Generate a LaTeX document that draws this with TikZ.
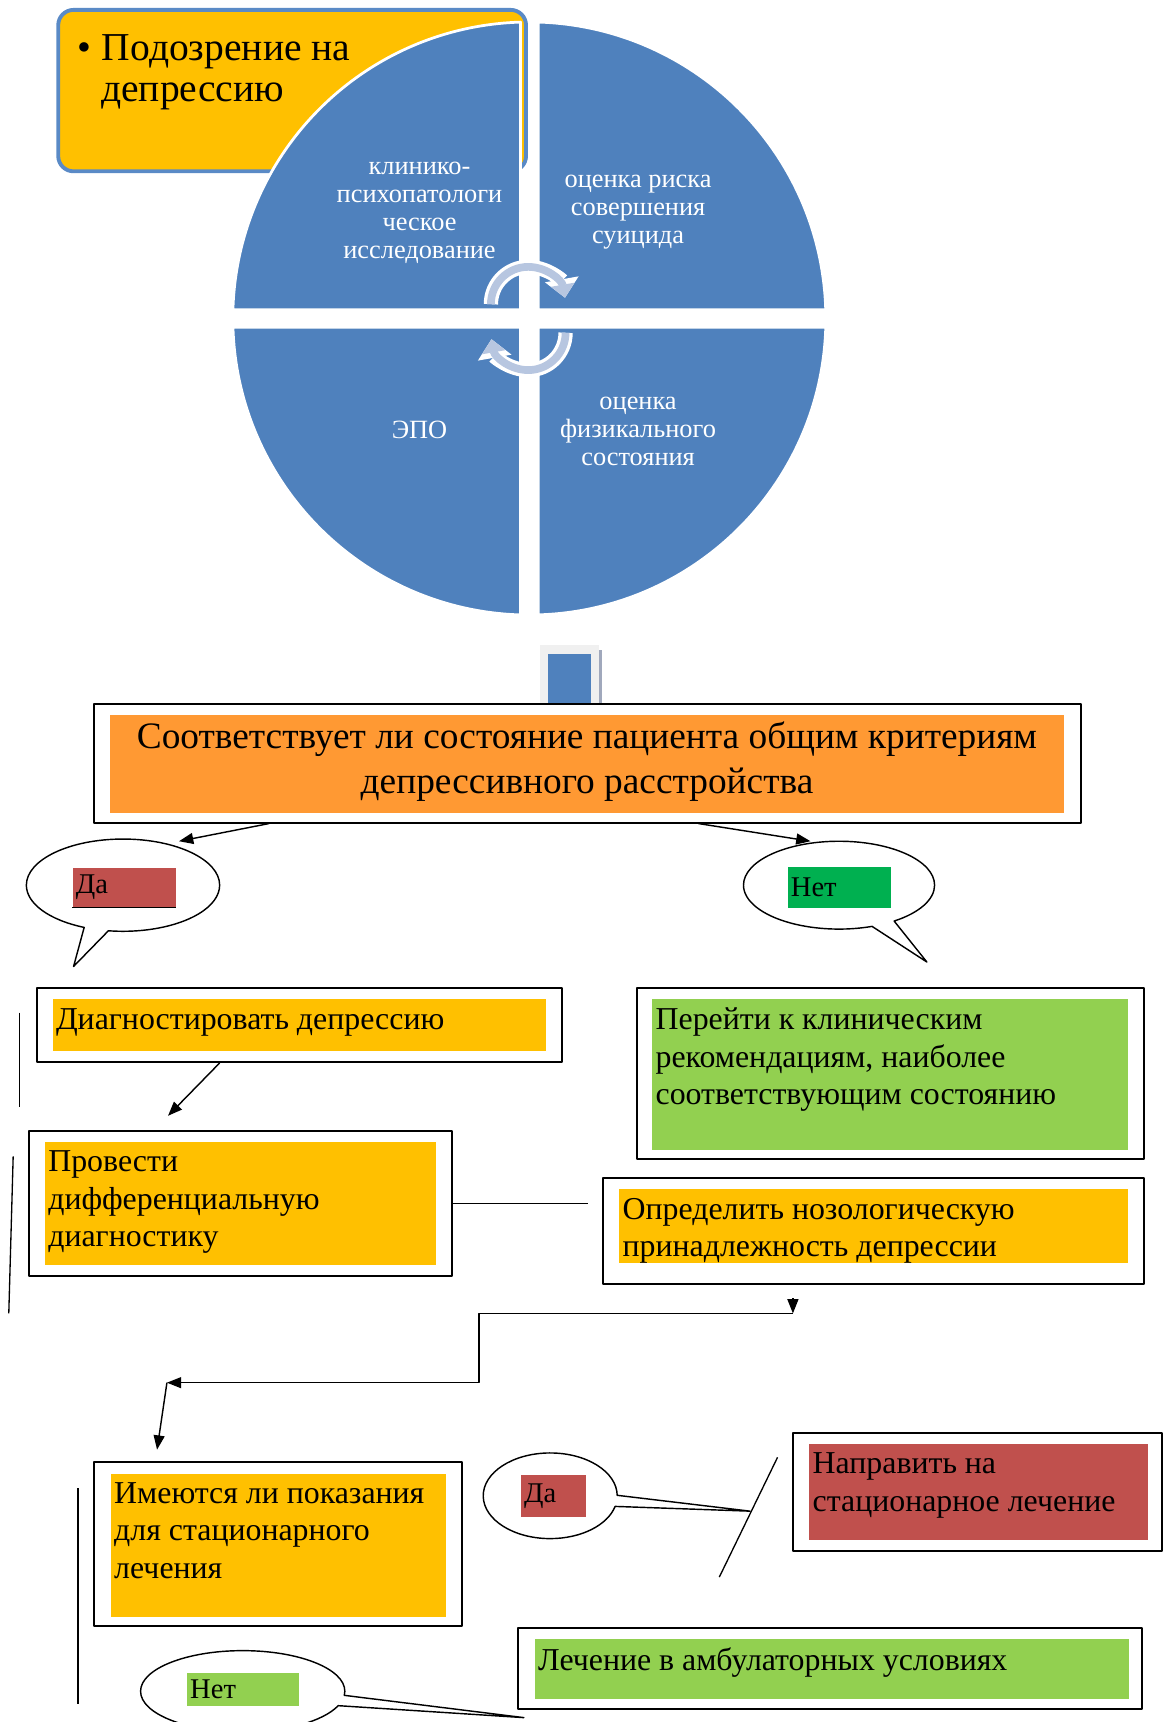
\documentclass[tikz,border=0pt]{standalone}
\usepackage{fontspec}
\setmainfont{Liberation Serif}
\usetikzlibrary{arrows.meta,shapes.callouts,fit}

\definecolor{quadblue}{HTML}{4F81BD}
\definecolor{topblue}{HTML}{5A8AC6}
\definecolor{boxyellow}{HTML}{FFC000}
\definecolor{critorange}{HTML}{FF9933}
\definecolor{yesred}{HTML}{C0504D}
\definecolor{nogreen}{HTML}{00B050}
\definecolor{lightgreen}{HTML}{92D050}
\definecolor{cyclearrow}{HTML}{B7C6E0}
\definecolor{framegray}{HTML}{F0F0F0}
\definecolor{shadowgray}{HTML}{A0A8BC}

\begin{document}
\begin{tikzpicture}[x=1pt, y=-1pt, line join=round, >={Triangle[length=13pt,width=10pt]},
    quad/.style={fill=quadblue, draw=white, line width=2.5pt},
    quadtext/.style={text=white, align=center, font=\fontsize{24}{25.5}\selectfont},
    cycout/.style={draw=white, line width=13pt, -{Triangle[length=17pt,width=30pt]}},
    cycin/.style={draw=cyclearrow, line width=7pt, -{Triangle[length=12pt,width=21pt]}},
    outbox/.style={draw=black, line width=1.8pt, fill=white, inner sep=0pt},
    inbox/.style={inner sep=0pt},
    boxtext/.style={anchor=north west, align=left, inner xsep=3pt, inner ysep=8pt, font=\fontsize{29}{34}\selectfont},
    bubble/.style={ellipse callout, draw=black, line width=1.3pt, fill=white, inner sep=0pt},
    tag/.style={anchor=north west, align=left, inner xsep=3pt, inner ysep=0pt, font=\fontsize{26}{28}\selectfont},
    conn/.style={line width=1.3pt}]
    \useasboundingbox (0,0) rectangle (1061,1568);

    % suspicion box behind the circle
    \node[draw=topblue, line width=3.5pt, fill=boxyellow, rounded corners=14pt, inner sep=0pt, fit={(53,9) (479,156)}] (suspect) {};
    \node[anchor=north west, align=left, inner sep=0pt, font=\fontsize{36}{38}\selectfont] (suspectText) at (70,31) {\textbullet\hspace{10pt}Подозрение на\\\hspace*{22pt}депрессию};

    % four quarters of the circle
    \filldraw[quad] (474,282) -- (212.1,282) arc[start angle=-178.3, end angle=-91.7, radius=270] -- cycle;
    \filldraw[quad] (490,282) -- (490,20.1) arc[start angle=-88.3, end angle=-1.7, radius=270] -- cycle;
    \filldraw[quad] (490,298) -- (751.9,298) arc[start angle=1.7, end angle=88.3, radius=270] -- cycle;
    \filldraw[quad] (474,298) -- (474,559.9) arc[start angle=91.7, end angle=178.3, radius=270] -- cycle;

    \node[quadtext] (clinical) at (382,194) {клинико-\\психопатологи\\ческое\\исследование};
    \node[quadtext] (suicide) at (581,193) {оценка риска\\совершения\\суицида};
    \node[quadtext] (epo) at (382,391) {ЭПО};
    \node[quadtext] (physical) at (581,393) {оценка\\физикального\\состояния};

    \draw[cycout] (447,277) arc[start angle=180, end angle=350, radius=34];
    \draw[cycin] (447,277) arc[start angle=180, end angle=350, radius=34];
    \draw[cycout] (515,303) arc[start angle=0, end angle=170, radius=34];
    \draw[cycin] (515,303) arc[start angle=0, end angle=170, radius=34];

    % small step square
    \fill[framegray] (492,587) rectangle (545,640);
    \fill[shadowgray] (545,592) rectangle (548,640);
    \node[fill=quadblue, inner sep=0pt, minimum width=39pt, minimum height=45pt, anchor=north west] (stepSquare) at (499,595) {};

    \node[outbox, fit={(86,641) (984,749)}] (crit) {};
    \node[inbox, fill=critorange, fit={(100,651) (969,740)}] (critIn) {};
    \node[align=center, font=\fontsize{34}{41}\selectfont] (critText) at ([yshift=2pt]critIn.center) {Соответствует ли состояние пациента общим критериям\\депрессивного расстройства};

    \node[bubble, minimum width=176pt, minimum height=84pt, callout absolute pointer={(67,880)}] (yesBubble) at (112,806) {};
    \node[tag, fill=yesred, text width=88pt, minimum height=36pt] (yesTag) at (66,790) {Да};
    \draw[line width=1.6pt] (yesTag.south west) -- (yesTag.south east);

    \node[bubble, minimum width=174pt, minimum height=80pt, callout absolute pointer={(844,876)}] (noBubble) at (764,806) {};
    \node[tag, fill=nogreen, text width=88pt, minimum height=38pt] (noTag) at (717,789) {Нет};

    \coordinate (yesTip) at (163,766);
    \coordinate (noTip) at (738,766);
    \draw[conn,->] (245,0 |- crit.south) -- (yesTip);
    \draw[conn,->] (636,0 |- crit.south) -- (noTip);

    \node[outbox, fit={(34,900) (512,967)}] (diag) {};
    \node[inbox, fill=boxyellow, fit={(48,910) (497,957)}] (diagIn) {};
    \node[boxtext] (diagText) at (diagIn.north west) {Диагностировать депрессию};

    \node[outbox, fit={(26,1030) (412,1162)}] (diff) {};
    \node[inbox, fill=boxyellow, fit={(41,1040) (397,1152)}] (diffIn) {};
    \node[boxtext] (diffText) at (diffIn.north west) {Провести\\дифференциальную\\диагностику};

    \coordinate (diffTip) at (153,1016);
    \draw[conn,->] (200,0 |- diag.south) -- (diffTip);

    \node[outbox, fit={(580,900) (1042,1055)}] (guide) {};
    \node[inbox, fill=lightgreen, fit={(594,910) (1027,1047)}] (guideIn) {};
    \node[boxtext] (guideText) at (guideIn.north west) {Перейти к клиническим\\рекомендациям, наиболее\\соответствующим состоянию};

    \node[outbox, fit={(549,1073) (1042,1169)}] (noso) {};
    \node[inbox, fill=boxyellow, fit={(564,1083) (1027,1150)}] (nosoIn) {};
    \node[boxtext] (nosoText) at (nosoIn.north west) {Определить нозологическую\\принадлежность депрессии};

    \coordinate (diffEnd) at (535,1096);
    \draw[conn] (diff.east) -- (diffEnd);

    % stray lines
    \draw[line width=1.2pt] (18,922) -- (18,1008);
    \draw[line width=1.2pt] (12,1053) -- (8,1196);
    \draw[line width=1.2pt] (71,1355) -- (71,1552);

    % elbow down to the hospital question
    \coordinate (bendTop) at (722,1182);
    \coordinate (bendA) at (722,1196);
    \coordinate (bendB) at (152,1259);
    \coordinate (hospTip) at (143,1320);
    \draw[conn,->] (bendTop) -- (bendA);
    \draw[conn,->] (bendA) -- (436,1196) -- (436,1259) -- (bendB);
    \draw[conn,->] (bendB) -- (hospTip);

    \node[outbox, fit={(86,1331) (421,1481)}] (hosp) {};
    \node[inbox, fill=boxyellow, fit={(101,1342) (406,1472)}] (hospIn) {};
    \node[boxtext] (hospText) at (hospIn.north west) {Имеются ли показания\\для стационарного\\лечения};

    \node[outbox, fit={(722,1305) (1058,1412)}] (ward) {};
    \node[inbox, fill=yesred, fit={(737,1315) (1045,1402)}] (wardIn) {};
    \node[boxtext] (wardText) at (wardIn.north west) {Направить на\\стационарное лечение};

    \node[outbox, fit={(472,1482) (1040,1556)}] (amb) {};
    \node[inbox, fill=lightgreen, fit={(487,1492) (1028,1547)}] (ambIn) {};
    \node[boxtext] (ambText) at (ambIn.north west) {Лечение в амбулаторных условиях};

    \node[bubble, minimum width=122pt, minimum height=78pt, callout absolute pointer={(683,1376)}] (wardBubble) at (501,1362) {};
    \node[tag, fill=yesred, text width=53pt, minimum height=38pt] (wardTag) at (474,1343) {Да};
    \coordinate (slashTop) at (708,1327);
    \coordinate (slashBottom) at (655,1436);
    \draw[line width=1.2pt] (slashTop) -- (slashBottom);

    \node[bubble, minimum width=186pt, minimum height=74pt, callout absolute pointer={(477,1564)}] (ambBubble) at (221,1540) {};
    \node[tag, fill=lightgreen, text width=96pt, minimum height=30pt] (ambTag) at (170,1523) {Нет};
\end{tikzpicture}
\end{document}
